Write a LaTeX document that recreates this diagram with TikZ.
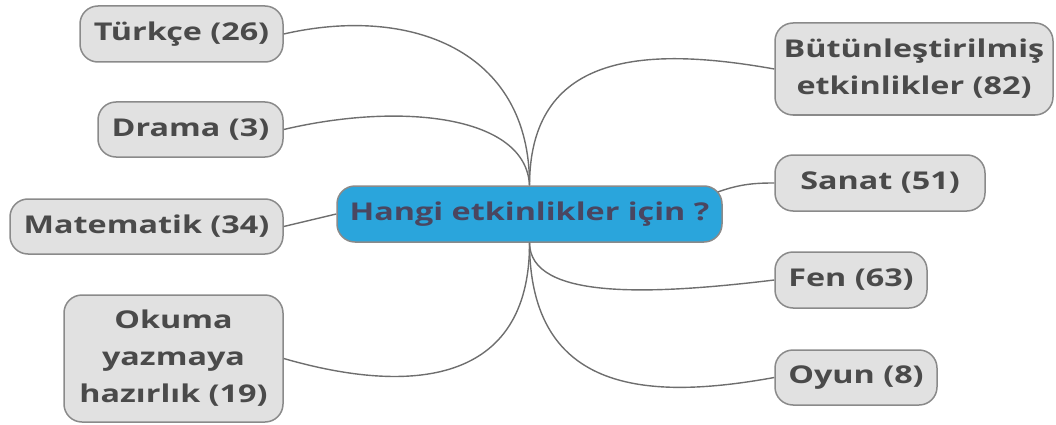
\documentclass[tikz,border=0pt]{standalone}
\usepackage{fontspec}
\setmainfont{Open Sans}[BoldFont={Open Sans Bold}, BoldFeatures={FakeStretch=1.32}]
\definecolor{boxfill}{HTML}{E1E1E1}
\definecolor{boxdraw}{HTML}{8A8A8A}
\definecolor{txt}{HTML}{4A4A4A}
\definecolor{hub}{HTML}{2AA5DC}
\definecolor{hubtxt}{HTML}{4A4660}
\definecolor{linec}{HTML}{6E6E6E}
\begin{document}
\begin{tikzpicture}[x=1pt,y=-1pt,
  leaf/.style={draw=boxdraw, line width=1.5pt, fill=boxfill, rounded corners=18pt,
    inner sep=0pt, align=center, text=txt, font=\bfseries\fontsize{24.5}{37}\selectfont},
  hubnode/.style={leaf, fill=hub, text=hubtxt},
  conn/.style={draw=linec, line width=1.4pt}]
\useasboundingbox (0,0) rectangle (1056,425);
\node[hubnode, minimum width=385pt, minimum height=56pt] (hub) at (529.5,214) {Hangi etkinlikler için ?};
\node[leaf, minimum width=203pt, minimum height=56pt] (turk) at (181.5,34) {Türkçe (26)};
\node[leaf, minimum width=185pt, minimum height=55pt] (drama) at (190.5,129.5) {Drama (3)};
\node[leaf, minimum width=273pt, minimum height=55pt] (mat) at (146.5,226.5) {Matematik (34)};
\node[leaf, minimum width=219pt, minimum height=127pt] (oku) at (173.5,358.5) {Okuma\\yazmaya\\hazırlık (19)};
\node[leaf, minimum width=278pt, minimum height=92pt] (but) at (914,69) {Bütünleştirilmiş\\etkinlikler (82)};
\node[leaf, minimum width=210pt, minimum height=56pt] (sanat) at (880,183) {Sanat (51)};
\node[leaf, minimum width=152pt, minimum height=56pt] (fen) at (851,280) {Fen (63)};
\node[leaf, minimum width=162pt, minimum height=55pt] (oyun) at (856,377.5) {Oyun (8)};
\draw[conn] (hub.north) .. controls (530,50) and (410,5) .. (turk.east);
\draw[conn] (hub.north) .. controls (526,115) and (400,102) .. (drama.east);
\draw[conn] (hub.west) -- (mat.east);
\draw[conn] (hub.south) .. controls (530,385) and (410,395) .. (oku.east);
\draw[conn] (hub.north) .. controls (530,55) and (640,45) .. (but.west);
\draw[conn] ([xshift=-5pt,yshift=22pt]hub.east) .. controls (740,184) and (755,183) .. (sanat.west);
\draw[conn] (hub.south) .. controls (530,300) and (650,295) .. (fen.west);
\draw[conn] (hub.south) .. controls (530,395) and (650,400) .. (oyun.west);
\end{tikzpicture}
\end{document}
